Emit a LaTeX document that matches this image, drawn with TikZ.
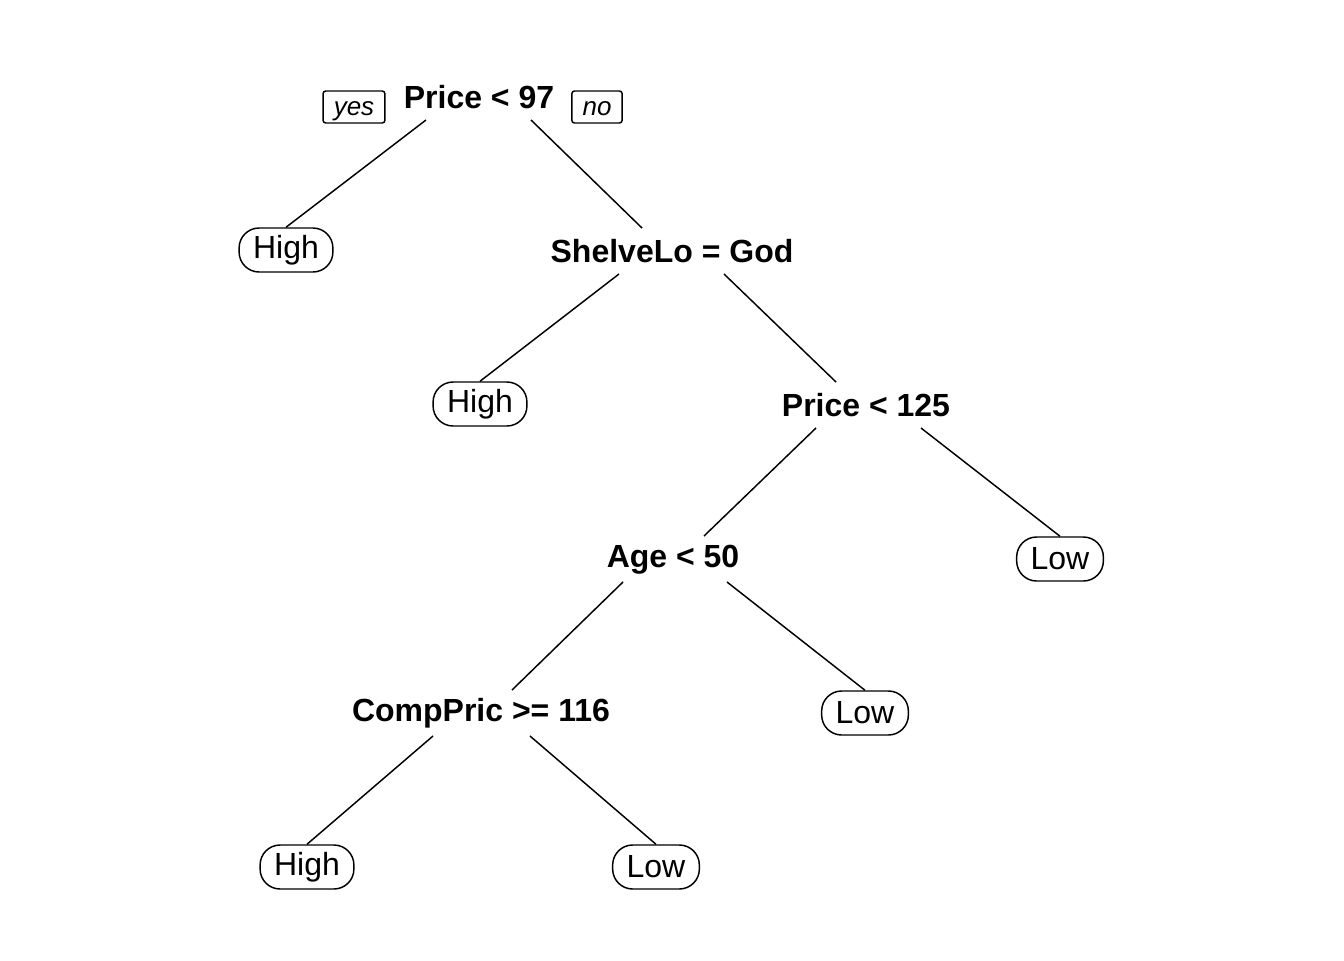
\documentclass[tikz,border=0pt]{standalone}
\usepackage{fontspec}
\setmainfont{Liberation Sans}
\begin{document}
\begin{tikzpicture}[x=0.75pt,y=-0.75pt,
  split/.style={font=\fontsize{24}{28}\selectfont\bfseries, inner sep=0pt, text height=17.2pt, text depth=0pt},
  leaf/.style={draw, line width=1.1pt, rounded corners=15pt, font=\fontsize{24}{28}\selectfont, inner xsep=10.5pt, inner ysep=0pt, minimum height=33pt},
  tag/.style={draw, line width=1.1pt, rounded corners=2pt, font=\fontsize{19.5}{22}\selectfont\itshape, inner xsep=8pt, inner ysep=0pt, text height=15pt, text depth=3pt, minimum height=24pt},
  edge/.style={line width=1.1pt}]
\useasboundingbox[fill=white] (0,0) rectangle (1344,960);
\node[split] (root) at (479,97) {Price < 97};
\node[tag] (yes) at (354,107) {yes};
\node[tag] (no) at (597,107) {no};
\node[leaf] (h1) at (286,250) {High};
\node[split] (shelve) at (672,251) {ShelveLo = God};
\node[leaf] (h2) at (480,404) {High};
\node[split] (p125) at (866,405) {Price < 125};
\node[split] (age) at (673,556) {Age < 50};
\node[leaf] (l1) at (1060,559) {Low};
\node[split] (comp) at (481,710) {CompPric >= 116};
\node[leaf] (l2) at (865,713) {Low};
\node[leaf] (h3) at (307,867) {High};
\node[leaf] (l3) at (656,867) {Low};
\draw[edge] ([shift={(-53,23)}]root.center) -- (h1.north);
\draw[edge] ([shift={(52,23)}]root.center) -- ([shift={(-30,-23)}]shelve.center);
\draw[edge] ([shift={(-53,23)}]shelve.center) -- (h2.north);
\draw[edge] ([shift={(52,23)}]shelve.center) -- ([shift={(-30,-23)}]p125.center);
\draw[edge] ([shift={(-50,23)}]p125.center) -- ([shift={(31,-20)}]age.center);
\draw[edge] ([shift={(55,23)}]p125.center) -- (l1.north);
\draw[edge] ([shift={(-50,26)}]age.center) -- ([shift={(31,-20)}]comp.center);
\draw[edge] ([shift={(54,26)}]age.center) -- (l2.north);
\draw[edge] ([shift={(-48,26)}]comp.center) -- (h3.north);
\draw[edge] ([shift={(49,26)}]comp.center) -- (l3.north);
\end{tikzpicture}
\end{document}
